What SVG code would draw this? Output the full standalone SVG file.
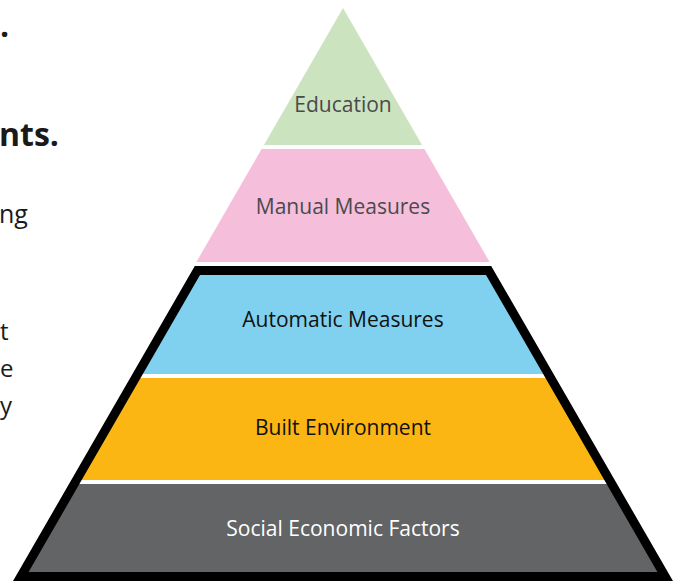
<svg xmlns="http://www.w3.org/2000/svg" width="679" height="581" viewBox="0 0 679 581">
<style>
.lbl{font-family:"Open Sans","Noto Sans",sans-serif;font-size:21px;text-anchor:middle}
.side{font-family:"Open Sans","Noto Sans",sans-serif;fill:#1a1a1a}
</style>
<defs>
<clipPath id="inner"><polygon points="197.4,270.5 488.6,270.5 665.2,576.5 20.8,576.5"/></clipPath>
</defs>
<rect width="679" height="581" fill="#ffffff"/>
<g id="side-text">
<text class="side" x="0" y="37" font-size="32" font-weight="700">.</text>
<text class="side" x="-1" y="146" font-size="32" font-weight="700">nts.</text>
<text class="side" x="-1" y="223" font-size="25">ng</text>
<text class="side" x="0" y="340" font-size="24">t</text>
<text class="side" x="0" y="377" font-size="24">e</text>
<text class="side" x="0" y="414" font-size="24">y</text>
</g>
<g id="education">
<polygon points="343,8 422,145 264,145" fill="#cbe3bf"/>
<text class="lbl" x="343" y="112" fill="#4a4a4c">Education</text>
</g>
<g id="manual-measures">
<polygon points="261.6,149 424.4,149 489.6,262 196.4,262" fill="#f5bedb"/>
<text class="lbl" x="343" y="214" fill="#4a4a4c">Manual Measures</text>
</g>
<g id="automatic-measures">
<rect x="0" y="266" width="679" height="108" fill="#80d0ef" clip-path="url(#inner)"/>
<text class="lbl" x="343" y="327" fill="#111111">Automatic Measures</text>
</g>
<g id="built-environment">
<rect x="0" y="378" width="679" height="102" fill="#fcb614" clip-path="url(#inner)"/>
<text class="lbl" x="343" y="435" fill="#111111">Built Environment</text>
</g>
<g id="social-economic-factors">
<rect x="0" y="484" width="679" height="97" fill="#636466" clip-path="url(#inner)"/>
<text class="lbl" x="343" y="536" fill="#ffffff">Social Economic Factors</text>
</g>
<g id="connectors">
<polygon points="197.4,270.5 488.6,270.5 665.2,576.5 20.8,576.5" fill="none" stroke="#000000" stroke-width="9" stroke-linejoin="miter" stroke-miterlimit="10"/>
</g>
</svg>
